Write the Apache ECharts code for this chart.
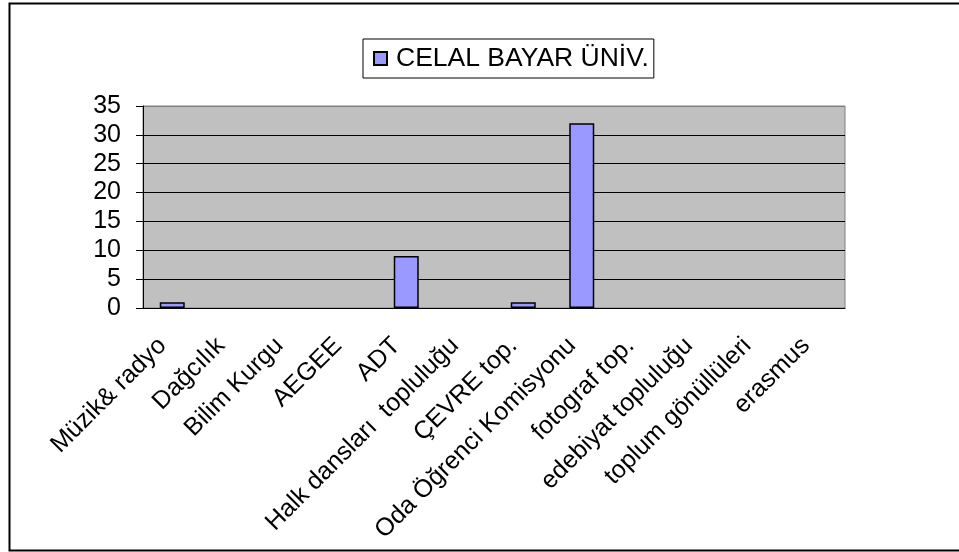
<!DOCTYPE html>
<html lang="tr" style="height: 100%">
<head>
  <meta charset="utf-8">
</head>
<body style="height: 100%; margin: 0; background: #fff">
  <div id="container" style="width: 959px; height: 552px"></div>

  <script type="text/javascript" src="https://cdn.jsdelivr.net/npm/echarts@6/dist/echarts.min.js"></script>

  <script type="text/javascript">
    var categories = ['Müzik& radyo', 'Dağcılık', 'Bilim Kurgu', 'AEGEE', 'ADT',
      'Halk dansları  topluluğu', 'ÇEVRE top.', 'Oda Öğrenci Komisyonu', 'fotograf top.',
      'edebiyat topluluğu', 'toplum gönüllüleri', 'erasmus'];
    var seriesName = 'CELAL BAYAR ÜNİV.';
    var values = [1, 0, 0, 0, 9, 0, 1, 32, 0, 0, 0, 0];
    var yTicks = [0, 35, 5]; // min, max, step

    var font = "'Liberation Sans', Arial, sans-serif";
    var dom = document.getElementById('container');
    var myChart = echarts.init(dom, null, { renderer: 'canvas' });

    // Excel draws nothing for a zero bar, so drop the outline there
    var barData = values.map(function (v) {
      return v === 0 ? { value: v, itemStyle: { borderWidth: 0 } } : v;
    });

    var option = {
      backgroundColor: '#fff',
      animation: false,
      textStyle: { fontFamily: font },
      graphic: [{
        type: 'rect',
        left: 7, top: 1,
        shape: { width: 960, height: 547 },
        style: { fill: 'none', stroke: '#000', lineWidth: 2 },
        z: 100
      }],
      legend: {
        left: 363,
        top: 39,
        padding: [6, 5, 6, 10],
        borderColor: '#000',
        borderWidth: 1,
        itemWidth: 13,
        itemHeight: 13,
        icon: 'rect',
        textStyle: { fontSize: 26.5, color: '#000', fontFamily: font, padding: [0, 0, 0, 4] },
        data: [seriesName]
      },
      grid: {
        left: 143,
        right: 114,
        top: 106,
        bottom: 244,
        show: true,
        backgroundColor: '#C0C0C0',
        borderColor: '#808080',
        borderWidth: 1,
        containLabel: false
      },
      xAxis: {
        type: 'category',
        data: categories,
        axisLine: { lineStyle: { color: '#000', width: 1 } },
        axisTick: { length: 7, lineStyle: { color: '#000' } },
        axisLabel: {
          interval: 0,
          rotate: 45,
          margin: 24,
          padding: [0, 14, 0, 0],
          color: '#000',
          fontSize: 25,
          fontFamily: font
        }
      },
      yAxis: {
        type: 'value',
        min: yTicks[0],
        max: yTicks[1],
        interval: yTicks[2],
        axisLine: { show: true, lineStyle: { color: '#000', width: 1 } },
        axisTick: { show: true, length: 7, lineStyle: { color: '#000' } },
        axisLabel: { color: '#000', fontSize: 25, margin: 22, fontFamily: font },
        splitLine: {
          lineStyle: {
            color: ['#000', '#000', '#000', '#000', '#000', '#000', '#000', '#808080'],
            width: 1
          }
        }
      },
      series: [{
        name: seriesName,
        type: 'bar',
        data: barData,
        barWidth: 25,
        itemStyle: { color: '#9999FF', borderColor: '#000', borderWidth: 1.5 }
      }]
    };

    myChart.setOption(option);
    window.addEventListener('resize', myChart.resize);
  </script>
</body>
</html>
